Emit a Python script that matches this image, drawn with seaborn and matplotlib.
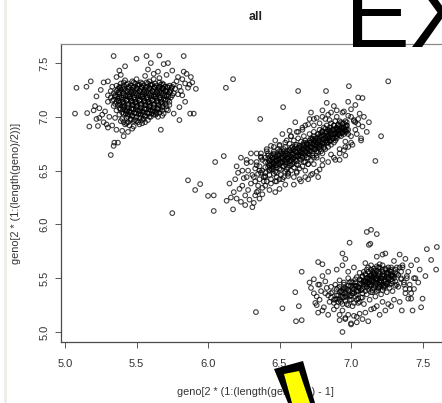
# -*- coding: utf-8 -*-

import pandas as pd
import matplotlib.pyplot as plt
from matplotlib.patches import Polygon, Rectangle
import seaborn as sns

# upper left cluster
a_x = [5.34, 5.57, 5.66, 5.83, 5.08, 5.15, 5.18, 5.07, 5.155, 5.17,
       5.23, 5.32, 5.34, 5.345, 5.37, 5.41, 5.67, 5.80, 5.875, 5.90,
       5.915, 5.60, 5.69, 5.72, 5.75, 5.50, 5.42, 5.38, 5.85, 5.88,
       5.22, 5.25, 5.27, 5.30, 5.33, 5.21, 5.24, 5.28, 5.31, 5.26,
       5.29, 5.22, 5.20, 5.24, 5.27, 5.30, 5.33, 5.36, 5.40, 5.44,
       5.48, 5.52, 5.47, 5.43, 5.39, 5.35, 5.56, 5.60, 5.64, 5.68,
       5.72, 5.76, 5.80, 5.84, 5.82, 5.86, 5.89, 5.79, 5.83, 5.87,
       5.42, 5.47, 5.50, 5.53, 5.56, 5.59, 5.62, 5.65, 5.68, 5.71,
       5.36, 5.39, 5.43, 5.46, 5.49, 5.52, 5.55, 5.58, 5.61, 5.64,
       5.67, 5.70, 5.73, 5.76, 5.37, 5.40, 5.44, 5.47, 5.50, 5.53,
       5.56, 5.59, 5.62, 5.65, 5.68, 5.71, 5.74, 5.77, 5.34, 5.38,
       5.41, 5.45, 5.48, 5.51, 5.54, 5.57, 5.60, 5.63, 5.66, 5.69,
       5.72, 5.75, 5.32, 5.35, 5.38, 5.42, 5.45, 5.48, 5.51, 5.54,
       5.57, 5.60, 5.63, 5.66, 5.69, 5.72, 5.30, 5.33, 5.36, 5.40,
       5.43, 5.46, 5.49, 5.52, 5.55, 5.58, 5.61, 5.64, 5.67, 5.70,
       5.73, 5.34, 5.37, 5.40, 5.44, 5.47, 5.50, 5.53, 5.56, 5.59,
       5.62, 5.65, 5.68, 5.71, 5.36, 5.39, 5.42, 5.45, 5.48, 5.51,
       5.54, 5.57, 5.60, 5.63, 5.66, 5.69, 5.38, 5.41, 5.44, 5.47,
       5.50, 5.53, 5.56, 5.59, 5.62, 5.65, 5.40, 5.43, 5.46, 5.49,
       5.52, 5.55, 5.58, 5.44, 5.48, 5.42, 5.51, 5.45, 5.54, 5.41]
a_y = [7.565, 7.565, 7.57, 7.565, 7.27, 7.28, 7.33, 7.03, 7.035, 6.91,
       6.915, 6.645, 6.73, 6.76, 6.76, 6.82, 6.88, 6.97, 7.03, 7.03,
       7.26, 7.50, 7.49, 7.50, 7.43, 7.54, 7.47, 7.43, 7.40, 7.37,
       7.19, 7.25, 7.32, 7.33, 7.28, 7.10, 7.08, 7.05, 7.00, 7.02,
       6.93, 6.98, 7.06, 6.99, 6.95, 6.90, 6.92, 6.88, 6.87, 6.86,
       6.91, 6.93, 6.89, 6.94, 6.96, 6.99, 6.95, 7.00, 7.03, 7.01,
       7.06, 7.03, 7.09, 7.14, 7.20, 7.27, 7.32, 7.37, 7.42, 7.30,
       7.34, 7.33, 7.35, 7.32, 7.38, 7.33, 7.35, 7.42, 7.31, 7.39,
       7.29, 7.31, 7.30, 7.29, 7.31, 7.30, 7.29, 7.31, 7.30, 7.29,
       7.30, 7.28, 7.29, 7.30, 7.26, 7.27, 7.26, 7.25, 7.27, 7.26,
       7.25, 7.27, 7.26, 7.25, 7.27, 7.24, 7.25, 7.26, 7.22, 7.23,
       7.22, 7.21, 7.23, 7.22, 7.21, 7.23, 7.22, 7.21, 7.23, 7.22,
       7.21, 7.20, 7.18, 7.19, 7.18, 7.17, 7.19, 7.18, 7.17, 7.19,
       7.18, 7.17, 7.19, 7.18, 7.17, 7.16, 7.14, 7.15, 7.14, 7.13,
       7.15, 7.14, 7.13, 7.15, 7.14, 7.13, 7.15, 7.14, 7.13, 7.12,
       7.11, 7.10, 7.11, 7.10, 7.09, 7.11, 7.10, 7.09, 7.11, 7.10,
       7.09, 7.08, 7.09, 7.07, 7.06, 7.07, 7.06, 7.05, 7.07, 7.06,
       7.05, 7.07, 7.06, 7.05, 7.04, 7.03, 7.02, 7.03, 7.02, 7.01,
       7.03, 7.02, 7.01, 7.03, 7.02, 7.00, 6.98, 6.99, 6.98, 6.97,
       6.99, 6.98, 6.97, 6.95, 6.96, 6.93, 6.95, 6.92, 6.94, 6.95]

# points in the dark core of the upper left cluster
a_core_x = [5.41, 5.44, 5.48, 5.51, 5.54, 5.57, 5.60, 5.63, 5.66, 5.69,
            5.38, 5.41, 5.45, 5.48, 5.51, 5.54, 5.57, 5.60, 5.63, 5.66,
            5.69, 5.72, 5.75, 5.36, 5.39, 5.42, 5.46, 5.49, 5.52, 5.55,
            5.58, 5.61, 5.64, 5.67, 5.70, 5.73, 5.76, 5.35, 5.38, 5.41,
            5.44, 5.47, 5.50, 5.53, 5.56, 5.59, 5.62, 5.65, 5.68, 5.71,
            5.74, 5.34, 5.37, 5.40, 5.43, 5.46, 5.49, 5.52, 5.55, 5.58,
            5.61, 5.64, 5.67, 5.70, 5.73, 5.35, 5.38, 5.41, 5.44, 5.47,
            5.50, 5.53, 5.56, 5.59, 5.62, 5.65, 5.68, 5.71, 5.38, 5.41,
            5.44, 5.47, 5.50, 5.53, 5.56, 5.59, 5.62, 5.65, 5.68, 5.40,
            5.43, 5.46, 5.49, 5.52, 5.55, 5.58, 5.61, 5.64, 5.44, 5.47,
            5.50, 5.53, 5.56, 5.59, 5.46, 5.50, 5.54, 5.32, 5.30, 5.78,
            5.80, 5.79, 5.82, 5.84, 5.81, 5.36, 5.39, 5.58, 5.62, 5.66,
            5.385, 5.415, 5.445, 5.475, 5.505, 5.535, 5.565, 5.595, 5.625, 5.655,
            5.685, 5.715, 5.745, 5.375, 5.405, 5.435, 5.465, 5.495, 5.525, 5.555,
            5.585, 5.615, 5.645, 5.675, 5.705, 5.735, 5.365, 5.395, 5.425, 5.455,
            5.485, 5.515, 5.545, 5.575, 5.605, 5.635, 5.665, 5.695, 5.725, 5.375,
            5.405, 5.435, 5.465, 5.495, 5.525, 5.555, 5.585, 5.615, 5.645, 5.675,
            5.705, 5.385, 5.415, 5.445, 5.475, 5.505, 5.535, 5.565, 5.595, 5.625,
            5.655, 5.685, 5.405, 5.435, 5.465, 5.495, 5.525, 5.555, 5.585, 5.615,
            5.645, 5.665, 5.425, 5.455, 5.485, 5.515, 5.545, 5.575, 5.605, 5.635]
a_core_y = [7.32, 7.31, 7.32, 7.30, 7.31, 7.32, 7.30, 7.31, 7.32, 7.30,
            7.28, 7.29, 7.27, 7.28, 7.29, 7.27, 7.28, 7.29, 7.27, 7.28,
            7.26, 7.27, 7.28, 7.24, 7.25, 7.24, 7.23, 7.25, 7.24, 7.23,
            7.25, 7.24, 7.23, 7.25, 7.24, 7.23, 7.22, 7.20, 7.21, 7.20,
            7.19, 7.21, 7.20, 7.19, 7.21, 7.20, 7.19, 7.21, 7.20, 7.19,
            7.18, 7.16, 7.17, 7.16, 7.15, 7.17, 7.16, 7.15, 7.17, 7.16,
            7.15, 7.17, 7.16, 7.15, 7.14, 7.12, 7.13, 7.12, 7.11, 7.13,
            7.12, 7.11, 7.13, 7.12, 7.11, 7.13, 7.12, 7.10, 7.08, 7.09,
            7.08, 7.07, 7.09, 7.08, 7.07, 7.09, 7.08, 7.07, 7.06, 7.04,
            7.05, 7.04, 7.03, 7.05, 7.04, 7.03, 7.05, 7.04, 7.00, 7.01,
            7.00, 6.99, 7.01, 7.00, 6.97, 6.96, 6.97, 7.24, 7.20, 7.33,
            7.28, 7.21, 7.35, 7.31, 7.24, 7.37, 7.39, 7.44, 7.40, 7.36,
            7.27, 7.26, 7.28, 7.27, 7.26, 7.28, 7.27, 7.26, 7.28, 7.27,
            7.26, 7.28, 7.27, 7.23, 7.22, 7.24, 7.23, 7.22, 7.24, 7.23,
            7.22, 7.24, 7.23, 7.22, 7.24, 7.23, 7.19, 7.18, 7.20, 7.19,
            7.18, 7.20, 7.19, 7.18, 7.20, 7.19, 7.18, 7.20, 7.19, 7.15,
            7.14, 7.16, 7.15, 7.14, 7.16, 7.15, 7.14, 7.16, 7.15, 7.14,
            7.16, 7.11, 7.10, 7.12, 7.11, 7.10, 7.12, 7.11, 7.10, 7.12,
            7.11, 7.10, 7.07, 7.06, 7.08, 7.07, 7.06, 7.08, 7.07, 7.06,
            7.08, 7.07, 7.03, 7.02, 7.04, 7.03, 7.02, 7.04, 7.03, 7.02]

# middle cluster, runs along the diagonal
b_x = [6.05, 5.86, 5.945, 5.91, 6.00, 6.04, 5.75, 6.04, 6.175, 6.125,
       6.63, 6.825, 6.985, 7.26, 6.525, 6.365, 7.21, 7.17, 6.11, 7.05,
       7.08, 6.83, 7.125, 6.175, 6.26, 6.31, 6.13, 6.16, 6.20, 6.23,
       6.18, 6.22, 6.26, 6.29, 6.15, 6.19, 6.24, 6.28, 6.32, 6.21,
       6.25, 6.30, 6.33, 6.36, 6.20, 6.24, 6.27, 6.31, 6.35, 6.38,
       6.23, 6.27, 6.30, 6.34, 6.37, 6.41, 6.44, 6.47, 6.36, 6.40,
       6.43, 6.47, 6.50, 6.54, 6.52, 6.57, 6.61, 6.66, 6.71, 6.72,
       6.76, 6.80, 6.84, 6.88, 6.70, 6.73, 6.77, 6.60, 6.65, 6.78,
       6.98, 7.00, 7.03, 7.06, 7.09, 7.02, 7.05, 7.08, 7.11, 7.04,
       7.07, 7.01, 6.98, 6.95, 6.92, 6.89, 7.00, 7.03, 6.96, 7.02,
       6.98, 6.94, 6.90, 6.85, 6.82, 6.78, 6.74, 6.70, 6.66, 6.62,
       6.58, 6.54, 6.50, 6.46, 6.42, 6.38, 6.34, 6.30, 6.56, 6.52,
       6.48, 6.44, 6.40, 6.36, 6.32, 6.88, 6.92, 6.96, 6.80, 6.84,
       6.76, 6.72, 6.68, 6.64, 6.60, 7.05, 7.07, 6.28, 6.27, 6.33,
       6.37, 6.37, 6.40, 6.40, 6.40, 6.40, 6.40, 6.42, 6.43, 6.43,
       6.43, 6.43, 6.45, 6.45, 6.46, 6.46, 6.46, 6.48, 6.48, 6.48,
       6.48, 6.49, 6.49, 6.51, 6.51, 6.51, 6.51, 6.52, 6.53, 6.54,
       6.54, 6.54, 6.54, 6.55, 6.56, 6.56, 6.57, 6.57, 6.57, 6.58,
       6.58, 6.59, 6.59, 6.59, 6.60, 6.60, 6.61, 6.61, 6.62, 6.62,
       6.62, 6.63, 6.63, 6.64, 6.64, 6.65, 6.65, 6.65, 6.66, 6.66,
       6.67, 6.67, 6.68, 6.68, 6.68, 6.69, 6.69, 6.70, 6.70, 6.71,
       6.71, 6.71, 6.72, 6.72, 6.73, 6.73, 6.74, 6.74, 6.74, 6.75,
       6.75, 6.76, 6.76, 6.77, 6.77, 6.77, 6.78, 6.78, 6.79, 6.79,
       6.80, 6.80, 6.80, 6.81, 6.81, 6.82, 6.82, 6.83, 6.83, 6.83,
       6.84, 6.84, 6.85, 6.85, 6.86, 6.86, 6.86, 6.87, 6.87, 6.88,
       6.88, 6.89, 6.89, 6.89, 6.90, 6.90, 6.91, 6.91, 6.92, 6.92,
       6.93, 6.93, 6.94, 6.94, 6.95, 6.95, 6.96, 6.96, 6.97, 6.97]
b_y = [6.58, 6.41, 6.375, 6.32, 6.265, 6.27, 6.105, 6.125, 7.35, 7.27,
       7.24, 7.24, 7.285, 7.33, 7.09, 6.98, 6.82, 6.59, 6.635, 7.18,
       7.175, 7.13, 6.95, 6.14, 6.18, 6.16, 6.22, 6.25, 6.24, 6.21,
       6.30, 6.33, 6.27, 6.23, 6.38, 6.42, 6.36, 6.32, 6.20, 6.48,
       6.43, 6.38, 6.27, 6.24, 6.54, 6.50, 6.57, 6.46, 6.31, 6.28,
       6.62, 6.60, 6.66, 6.55, 6.63, 6.70, 6.73, 6.78, 6.42, 6.36,
       6.32, 6.30, 6.33, 6.37, 6.84, 6.87, 6.95, 6.90, 6.98, 7.04,
       6.99, 7.06, 7.02, 7.10, 6.42, 6.47, 6.44, 6.37, 6.40, 6.51,
       7.14, 7.07, 7.11, 7.03, 7.00, 6.97, 6.93, 6.91, 6.86, 6.84,
       6.78, 6.74, 6.72, 6.69, 6.66, 6.60, 6.82, 6.88, 6.77, 6.96,
       7.01, 7.04, 7.00, 6.97, 6.98, 6.94, 6.92, 6.93, 6.88, 6.86,
       6.82, 6.76, 6.73, 6.68, 6.64, 6.60, 6.66, 6.58, 6.45, 6.42,
       6.40, 6.42, 6.45, 6.50, 6.44, 6.62, 6.60, 6.64, 6.55, 6.58,
       6.49, 6.46, 6.44, 6.42, 6.44, 6.98, 6.80, 6.50, 6.44, 6.52,
       6.48, 6.66, 6.53, 6.58, 6.62, 6.48, 6.44, 6.66, 6.50, 6.55,
       6.59, 6.46, 6.62, 6.51, 6.47, 6.56, 6.66, 6.48, 6.53, 6.60,
       6.44, 6.64, 6.70, 6.51, 6.57, 6.46, 6.68, 6.62, 6.54, 6.49,
       6.58, 6.66, 6.72, 6.51, 6.62, 6.47, 6.55, 6.69, 6.75, 6.50,
       6.60, 6.56, 6.65, 6.72, 6.53, 6.78, 6.60, 6.68, 6.49, 6.56,
       6.74, 6.64, 6.80, 6.52, 6.71, 6.60, 6.67, 6.77, 6.54, 6.63,
       6.73, 6.82, 6.58, 6.68, 6.78, 6.62, 6.74, 6.56, 6.70, 6.65,
       6.76, 6.84, 6.60, 6.72, 6.66, 6.80, 6.62, 6.76, 6.86, 6.70,
       6.80, 6.64, 6.74, 6.84, 6.67, 6.78, 6.72, 6.88, 6.68, 6.82,
       6.76, 6.86, 6.66, 6.72, 6.90, 6.70, 6.80, 6.76, 6.86, 6.92,
       6.72, 6.82, 6.78, 6.90, 6.74, 6.84, 6.94, 6.80, 6.88, 6.76,
       6.92, 6.84, 6.78, 6.96, 6.88, 6.80, 6.92, 6.84, 6.88, 6.96,
       6.82, 6.90, 6.86, 6.94, 6.84, 6.90, 6.88, 6.96, 6.86, 6.92]

# points in the dark core of the middle cluster
b_core_x = [6.42, 6.42, 6.42, 6.44, 6.44, 6.44, 6.44, 6.46, 6.46, 6.46,
            6.46, 6.47, 6.48, 6.48, 6.48, 6.50, 6.50, 6.50, 6.50, 6.50,
            6.52, 6.52, 6.52, 6.52, 6.53, 6.54, 6.54, 6.54, 6.55, 6.56,
            6.56, 6.56, 6.56, 6.58, 6.58, 6.58, 6.58, 6.58, 6.60, 6.60,
            6.60, 6.60, 6.61, 6.62, 6.62, 6.62, 6.63, 6.64, 6.64, 6.64,
            6.64, 6.66, 6.66, 6.66, 6.66, 6.67, 6.68, 6.68, 6.68, 6.69,
            6.70, 6.70, 6.70, 6.70, 6.72, 6.72, 6.72, 6.72, 6.73, 6.74,
            6.74, 6.74, 6.74, 6.76, 6.76, 6.76, 6.76, 6.77, 6.78, 6.78,
            6.78, 6.78, 6.80, 6.80, 6.80, 6.80, 6.81, 6.82, 6.82, 6.82,
            6.82, 6.84, 6.84, 6.84, 6.84, 6.86, 6.86, 6.86, 6.86, 6.88,
            6.88, 6.88, 6.88, 6.90, 6.90, 6.90, 6.92, 6.92, 6.92, 6.94,
            6.94, 6.96, 6.96, 6.98, 6.98, 6.33, 6.35, 6.38, 6.39, 6.34,
            6.43, 6.43, 6.43, 6.45, 6.45, 6.45, 6.47, 6.47, 6.47, 6.49,
            6.49, 6.49, 6.51, 6.51, 6.51, 6.53, 6.53, 6.53, 6.55, 6.55,
            6.55, 6.57, 6.57, 6.57, 6.59, 6.59, 6.59, 6.61, 6.61, 6.61,
            6.63, 6.63, 6.63, 6.65, 6.65, 6.65, 6.67, 6.67, 6.67, 6.69,
            6.69, 6.69, 6.71, 6.71, 6.71, 6.73, 6.73, 6.73, 6.75, 6.75,
            6.75, 6.77, 6.77, 6.77, 6.79, 6.79, 6.79, 6.81, 6.81, 6.81,
            6.83, 6.83, 6.83, 6.85, 6.85, 6.85, 6.87, 6.87, 6.87, 6.89,
            6.89, 6.89, 6.91, 6.91, 6.91, 6.93, 6.93, 6.93, 6.95, 6.95,
            6.95, 6.97, 6.97, 6.97, 6.38, 6.36, 6.39, 6.35, 6.41, 6.44,
            6.47, 6.50, 6.53, 6.56, 6.34, 6.37, 6.41, 6.46, 6.50, 6.55,
            6.58, 6.63, 6.68, 6.74, 6.80, 6.86, 6.90, 6.95, 7.00, 7.03,
            7.00, 6.96, 6.92, 6.86, 6.80, 6.74, 6.68, 6.62, 6.70, 6.76]
b_core_y = [6.53, 6.57, 6.61, 6.52, 6.56, 6.60, 6.64, 6.53, 6.57, 6.61,
            6.65, 6.49, 6.55, 6.59, 6.63, 6.52, 6.56, 6.60, 6.64, 6.68,
            6.54, 6.58, 6.62, 6.66, 6.70, 6.56, 6.60, 6.64, 6.68, 6.53,
            6.57, 6.61, 6.65, 6.55, 6.59, 6.63, 6.67, 6.71, 6.58, 6.62,
            6.66, 6.70, 6.74, 6.59, 6.63, 6.67, 6.55, 6.61, 6.65, 6.69,
            6.73, 6.62, 6.66, 6.70, 6.74, 6.58, 6.64, 6.68, 6.72, 6.76,
            6.66, 6.70, 6.74, 6.62, 6.68, 6.72, 6.76, 6.80, 6.64, 6.70,
            6.74, 6.78, 6.82, 6.72, 6.76, 6.80, 6.68, 6.84, 6.74, 6.78,
            6.82, 6.70, 6.75, 6.79, 6.83, 6.87, 6.71, 6.77, 6.81, 6.85,
            6.89, 6.76, 6.80, 6.84, 6.88, 6.78, 6.82, 6.86, 6.90, 6.80,
            6.84, 6.88, 6.92, 6.82, 6.86, 6.90, 6.83, 6.87, 6.91, 6.85,
            6.89, 6.86, 6.91, 6.88, 6.84, 6.40, 6.36, 6.34, 6.40, 6.30,
            6.51, 6.55, 6.59, 6.54, 6.58, 6.62, 6.55, 6.59, 6.63, 6.57,
            6.61, 6.65, 6.58, 6.62, 6.66, 6.60, 6.64, 6.68, 6.58, 6.62,
            6.66, 6.59, 6.63, 6.69, 6.61, 6.65, 6.69, 6.64, 6.68, 6.72,
            6.63, 6.67, 6.71, 6.64, 6.68, 6.72, 6.66, 6.70, 6.76, 6.67,
            6.71, 6.75, 6.68, 6.72, 6.78, 6.71, 6.75, 6.79, 6.70, 6.74,
            6.78, 6.72, 6.76, 6.80, 6.73, 6.77, 6.85, 6.75, 6.79, 6.83,
            6.78, 6.82, 6.86, 6.77, 6.81, 6.87, 6.80, 6.84, 6.88, 6.81,
            6.85, 6.89, 6.84, 6.88, 6.93, 6.85, 6.89, 6.95, 6.87, 6.90,
            6.94, 6.88, 6.92, 6.95, 6.50, 6.54, 6.44, 6.47, 6.40, 6.38,
            6.40, 6.42, 6.44, 6.48, 6.58, 6.62, 6.68, 6.72, 6.74, 6.78,
            6.82, 6.86, 6.92, 6.98, 7.00, 7.04, 7.06, 7.05, 7.00, 6.95,
            6.76, 6.72, 6.70, 6.65, 6.60, 6.56, 6.50, 6.48, 6.56, 6.62]

# lower right cluster, looser than the other two
c_x = [6.335, 6.52, 6.635, 6.615, 6.655, 6.61, 6.655, 6.77, 6.80, 6.99,
       7.11, 7.14, 7.18, 7.125, 7.135, 6.94, 6.96, 6.94, 7.53, 7.56,
       7.595, 7.52, 7.50, 7.49, 7.43, 7.355, 7.40, 7.60, 6.71, 6.74,
       6.72, 6.77, 6.80, 6.84, 6.76, 6.79, 6.83, 6.75, 6.78, 6.81,
       6.85, 6.77, 6.80, 6.74, 6.78, 6.82, 6.86, 6.76, 6.84, 6.88,
       6.92, 6.96, 7.00, 7.04, 6.90, 6.94, 6.98, 7.02, 7.06, 7.10,
       7.14, 7.18, 7.22, 7.20, 7.24, 7.26, 7.30, 7.34, 7.38, 7.42,
       7.46, 7.48, 7.44, 7.40, 7.36, 7.32, 7.28, 7.24, 7.20, 7.16,
       7.12, 7.08, 7.04, 7.00, 6.96, 6.92, 6.88, 7.44, 7.47, 7.42,
       7.38, 7.34, 7.30, 7.26, 7.22, 7.18, 7.14, 7.10, 7.06, 7.02,
       6.98, 6.94, 6.90, 6.86, 6.82, 6.89, 6.93, 6.97, 7.01, 7.05,
       7.09, 7.13, 7.17, 7.21, 7.25, 7.29, 7.33, 7.37, 7.41, 7.45,
       6.87, 6.91, 6.95, 6.99, 7.03, 7.07, 7.11, 7.15, 7.19, 7.23,
       7.27, 7.31, 7.35, 7.39, 6.90, 6.93, 6.96, 6.99, 7.02, 7.05,
       7.08, 7.11, 7.14, 7.17, 7.20, 7.23, 7.26, 7.29, 7.32, 7.35,
       6.89, 6.92, 6.95, 6.98, 7.01, 7.04, 7.07, 7.10, 7.13, 7.16,
       7.19, 7.22, 7.25, 7.28, 7.31, 7.34, 7.05, 7.07, 7.09, 7.11,
       7.13, 7.15, 7.17, 7.19, 7.21, 7.23, 7.25, 7.27, 7.29, 7.31,
       7.06, 7.08, 7.10, 7.12, 7.14, 7.16, 7.18, 7.20, 7.22, 7.24,
       7.26, 7.28, 7.30, 7.09, 7.11, 7.13, 7.15, 7.17, 7.19, 7.21,
       6.91, 6.94, 6.97, 7.00, 7.03, 6.92, 6.95, 6.98, 7.01, 7.04]
c_y = [5.185, 5.22, 5.24, 5.10, 5.11, 5.37, 5.56, 5.65, 5.63, 5.83,
       5.93, 5.95, 5.91, 5.81, 5.82, 5.73, 5.68, 5.00, 5.77, 5.67,
       5.58, 5.52, 5.31, 5.23, 5.20, 5.20, 5.31, 5.79, 5.46, 5.49,
       5.41, 5.44, 5.52, 5.56, 5.33, 5.38, 5.41, 5.27, 5.30, 5.23,
       5.28, 5.18, 5.20, 5.36, 5.44, 5.47, 5.42, 5.25, 5.16, 5.21,
       5.11, 5.12, 5.08, 5.14, 5.58, 5.62, 5.56, 5.60, 5.55, 5.64,
       5.58, 5.70, 5.72, 5.63, 5.73, 5.60, 5.66, 5.72, 5.68, 5.62,
       5.67, 5.58, 5.50, 5.56, 5.60, 5.44, 5.24, 5.20, 5.16, 5.22,
       5.10, 5.12, 5.09, 5.07, 5.13, 5.16, 5.27, 5.40, 5.46, 5.31,
       5.36, 5.28, 5.30, 5.26, 5.28, 5.24, 5.21, 5.18, 5.17, 5.15,
       5.16, 5.20, 5.24, 5.32, 5.36, 5.30, 5.28, 5.26, 5.24, 5.27,
       5.26, 5.30, 5.33, 5.35, 5.37, 5.38, 5.42, 5.44, 5.40, 5.50,
       5.37, 5.34, 5.32, 5.30, 5.33, 5.32, 5.35, 5.37, 5.39, 5.42,
       5.44, 5.47, 5.50, 5.52, 5.40, 5.38, 5.36, 5.38, 5.36, 5.38,
       5.40, 5.42, 5.44, 5.46, 5.44, 5.47, 5.50, 5.52, 5.54, 5.56,
       5.44, 5.42, 5.41, 5.43, 5.41, 5.43, 5.45, 5.47, 5.49, 5.51,
       5.49, 5.52, 5.54, 5.58, 5.58, 5.60, 5.41, 5.39, 5.47, 5.45,
       5.42, 5.48, 5.44, 5.41, 5.47, 5.43, 5.45, 5.41, 5.47, 5.43,
       5.49, 5.51, 5.53, 5.50, 5.52, 5.54, 5.50, 5.56, 5.53, 5.58,
       5.54, 5.56, 5.52, 5.56, 5.58, 5.46, 5.56, 5.52, 5.60, 5.50,
       5.28, 5.32, 5.34, 5.47, 5.49, 5.48, 5.46, 5.50, 5.46, 5.51]

# points in the dark part of the lower right cluster
c_core_x = [6.90, 6.92, 6.94, 6.96, 6.98, 7.00, 7.02, 7.04, 7.06, 7.08,
            6.91, 6.93, 6.95, 6.97, 6.99, 7.01, 7.03, 7.05, 7.07, 7.09,
            7.10, 7.12, 7.14, 7.16, 7.18, 7.20, 7.22, 7.24, 7.26, 7.28,
            7.10, 7.12, 7.14, 7.16, 7.18, 7.20, 7.22, 7.24, 7.26, 7.28,
            7.30, 7.09, 7.11, 7.13, 7.15, 7.17, 7.19, 7.21, 7.23, 7.25,
            7.27, 7.29, 7.31, 7.08, 7.10, 7.12, 7.14, 7.16, 7.18, 7.20,
            7.22, 7.24, 7.26, 7.28, 7.12, 7.14, 7.16, 7.18, 7.20, 7.22,
            7.04, 7.06, 7.08, 7.00, 7.02, 6.96, 6.98, 6.94, 7.33, 7.35,
            7.37, 7.39, 7.32, 7.36, 7.42, 7.41, 7.38, 6.88, 6.86, 6.84,
            7.11, 7.13, 7.15, 7.17, 7.19, 7.21, 7.23, 7.25, 7.12, 7.14,
            7.16, 7.18, 7.20, 7.22, 7.24, 7.26, 7.28, 7.10, 7.13, 7.16,
            7.19, 7.22, 7.25, 7.28, 7.00, 7.03, 7.06, 6.92, 6.95, 6.98,
            7.01, 7.04, 7.07, 6.90, 6.93, 6.96, 6.99, 7.02, 7.05, 7.08]
c_core_y = [5.34, 5.30, 5.37, 5.33, 5.39, 5.34, 5.40, 5.35, 5.41, 5.36,
            5.41, 5.38, 5.44, 5.40, 5.46, 5.38, 5.46, 5.42, 5.48, 5.44,
            5.38, 5.40, 5.37, 5.41, 5.38, 5.42, 5.39, 5.43, 5.46, 5.49,
            5.44, 5.46, 5.43, 5.46, 5.45, 5.48, 5.44, 5.47, 5.51, 5.53,
            5.50, 5.48, 5.50, 5.49, 5.51, 5.49, 5.52, 5.50, 5.52, 5.55,
            5.57, 5.53, 5.55, 5.52, 5.54, 5.56, 5.53, 5.55, 5.57, 5.54,
            5.56, 5.59, 5.55, 5.60, 5.60, 5.62, 5.59, 5.61, 5.60, 5.62,
            5.30, 5.28, 5.32, 5.30, 5.27, 5.29, 5.25, 5.26, 5.53, 5.49,
            5.46, 5.50, 5.60, 5.62, 5.36, 5.44, 5.40, 5.30, 5.36, 5.34,
            5.42, 5.44, 5.39, 5.43, 5.41, 5.46, 5.41, 5.45, 5.51, 5.48,
            5.53, 5.50, 5.46, 5.50, 5.49, 5.49, 5.45, 5.46, 5.52, 5.57,
            5.55, 5.58, 5.52, 5.52, 5.43, 5.43, 5.45, 5.37, 5.39, 5.35,
            5.36, 5.38, 5.39, 5.31, 5.33, 5.41, 5.33, 5.43, 5.31, 5.46]

x_ticks = [5.0, 5.5, 6.0, 6.5, 7.0, 7.5]
y_ticks = [5.0, 5.5, 6.0, 6.5, 7.0, 7.5]

W, H = 442, 403


def fx(px):
    return px / W


def fy(py):
    return 1 - py / H


df = pd.DataFrame({'x': a_x + a_core_x + b_x + b_core_x + c_x + c_core_x,
                   'y': a_y + a_core_y + b_y + b_core_y + c_y + c_core_y})

sns.set_style('white')
plt.rcParams['font.family'] = ['Liberation Sans', 'DejaVu Sans']

fig = plt.figure(figsize=(W / 100, H / 100), dpi=100, facecolor='white')
ax = fig.add_axes([fx(61), fy(342), fx(442) - fx(61), fy(44) - fy(342)])

sns.scatterplot(data=df, x='x', y='y', ax=ax, marker='o', s=11,
                facecolor='none', edgecolor='black', linewidth=0.8,
                alpha=0.75, legend=False)

ax.set_xlim(4.972, 7.636)
ax.set_ylim(4.907, 7.677)
ax.set_xticks(x_ticks)
ax.set_yticks(y_ticks)
ax.set_xticklabels([str(t) for t in x_ticks], fontsize=8, color='#333333')
ax.set_yticklabels([str(t) for t in y_ticks], fontsize=8, color='#333333',
                   rotation=90, va='center')
ax.tick_params(axis='x', direction='out', length=4.5, width=0.7,
               color='#555555', bottom=True, pad=8)
ax.tick_params(axis='y', direction='out', length=4.5, width=0.7,
               color='#555555', left=True, pad=4)
ax.set_xlabel('')
ax.set_ylabel('')

for side in ['left', 'bottom']:
    ax.spines[side].set_color('#4a4a4a')
    ax.spines[side].set_linewidth(0.9)
ax.spines['top'].set_color('#8a8a8a')
ax.spines['top'].set_linewidth(0.9)
ax.spines['right'].set_visible(False)

# pale strip down the left edge of the screenshot
fig.add_artist(Rectangle((fx(4), 0), fx(3), 1, transform=fig.transFigure,
                         facecolor='#efefea', edgecolor='none'))

fig.text(fx(256), fy(17), 'all', fontsize=9, fontweight='bold',
         ha='center', va='center', color='#222222')
fig.text(fx(16), fy(193), 'geno[2 * (1:(length(geno)/2))]', fontsize=7.8,
         rotation=90, ha='center', va='center', color='#333333')
fig.text(fx(255), fy(392), 'geno[2 * (1:(length(geno)/2)) - 1]', fontsize=7.8,
         ha='center', va='center', color='#333333')

# big overlay text and pencil on top of the chart
fig.text(fx(345), fy(47), 'EX', fontsize=70, ha='left', va='baseline',
         color='black', zorder=20)
fig.add_artist(Polygon([(fx(274), fy(369)), (fx(303), fy(361)), (fx(315), fy(403)),
                        (fx(288), fy(403))], closed=True, transform=fig.transFigure,
                       facecolor='black', edgecolor='none', zorder=21))
fig.add_artist(Polygon([(fx(284), fy(374)), (fx(299), fy(371)), (fx(310), fy(403)),
                        (fx(292), fy(403))], closed=True, transform=fig.transFigure,
                       facecolor='#ffff00', edgecolor='none', zorder=22))

fig.savefig('out.png', dpi=100)
